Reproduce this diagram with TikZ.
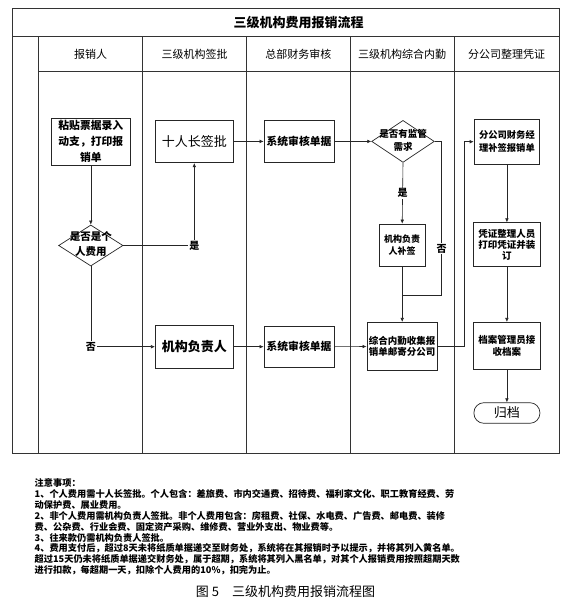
\documentclass[tikz,border=0pt]{standalone}
\usepackage{fontspec}
\setmainfont{Noto Sans CJK SC}
\usetikzlibrary{arrows.meta,shapes.geometric}
\newcommand{\dtxt}[3]{\makebox[0pt]{\smash{\raisebox{-2.5pt}{\fontsize{#1}{#2}\selectfont\bfseries\setlength{\tabcolsep}{0pt}\begin{tabular}{c}#3\end{tabular}}}}}
\begin{document}
\begin{tikzpicture}[x=1pt,y=-1pt,
  frame/.style={line width=0.9pt, draw=black!80},
  box/.style={draw=black!85, line width=0.7pt, inner sep=0pt, align=center},
  dia/.style={diamond, draw=black!85, line width=0.7pt, inner sep=0pt},
  arr/.style={-{Latex[length=4pt,width=3.6pt]}, line width=0.6pt, draw=black!85},
  ln/.style={line width=0.6pt, draw=black!85},
  lbl/.style={fill=white, inner sep=1pt, font=\fontsize{10}{12}\selectfont\bfseries},
  head/.style={inner sep=0pt, font=\fontsize{11}{13}\selectfont},
  note/.style={anchor=base west, inner sep=0pt, font=\fontsize{9.2}{11}\selectfont\bfseries}]
\useasboundingbox (0,0) rectangle (577,611);
\fill[white] (0,0) rectangle (577,611);
% frame
\draw[frame] (12.3,8.3) rectangle (559,453);
\draw[frame] (12.3,36.5) -- (559,36.5);
\draw[frame] (38.3,36.5) -- (38.3,453);
\draw[frame] (38.3,71.5) -- (559,71.5);
\foreach \x in {142.7,246.7,350,454} \draw[frame] (\x,36.5) -- (\x,453);
% title and headers
\node[inner sep=0pt, font=\fontsize{13}{15}\selectfont\bfseries] (tt) at (298.5,22.4) {三级机构费用报销流程};
\node[head] (h1) at (90.5,54) {报销人};
\node[head] (h2) at (194.7,54) {三级机构签批};
\node[head] (h3) at (298.4,54) {总部财务审核};
\node[head] (h4) at (402,54) {三级机构综合内勤};
\node[head] (h5) at (506.5,54) {分公司整理凭证};
% nodes
\node[box, minimum width=78.3pt, minimum height=46.7pt, font=\fontsize{10.8}{16}\selectfont\bfseries] (b1) at (90.8,141.6) {粘贴票据录入\\动支，打印报\\销单};
\node[box, minimum width=78pt, minimum height=42.7pt, font=\fontsize{13}{15}\selectfont] (sg) at (194.3,141.4) {十人长签批};
\node[box, minimum width=70pt, minimum height=42.7pt, font=\fontsize{10.8}{13}\selectfont\bfseries] (s1) at (299,141.4) {系统审核单据};
\node[dia, minimum width=62.6pt, minimum height=42pt] (d2) at (403,141.4) {\dtxt{9.5}{12.7}{是否有监管\\需求}};
\node[box, minimum width=45.7pt, minimum height=42pt, font=\fontsize{9}{12.7}\selectfont\bfseries] (bq) at (402.2,245) {机构负责\\人补签};
\node[box, minimum width=65.7pt, minimum height=45.3pt, font=\fontsize{9.3}{12.7}\selectfont\bfseries] (fc) at (506.9,141.7) {分公司财务经\\理补签报销单};
\node[box, minimum width=66.5pt, minimum height=44pt, font=\fontsize{9.5}{11}\selectfont\bfseries] (pz) at (506.9,244.7) {凭证整理人员\\打印凭证并装\\订};
\node[dia, minimum width=64.4pt, minimum height=41pt] (d1) at (90.8,245.5) {\dtxt{10.5}{15}{是否是个\\人费用}};
\node[box, minimum width=78pt, minimum height=42.6pt, font=\fontsize{13}{15}\selectfont\bfseries] (fz) at (194.3,346.7) {机构负责人};
\node[box, minimum width=70pt, minimum height=41.6pt, font=\fontsize{10.8}{13}\selectfont\bfseries] (s2) at (299,346.7) {系统审核单据};
\node[box, minimum width=70.6pt, minimum height=48.4pt, font=\fontsize{9.5}{11.7}\selectfont\bfseries] (zh) at (402.2,346.5) {综合内勤收集报\\销单邮寄分公司};
\node[box, minimum width=66.5pt, minimum height=47pt, font=\fontsize{9.5}{12}\selectfont\bfseries] (da) at (506.9,345.8) {档案管理员接\\收档案};
\node[box, rounded corners=10pt, minimum width=66pt, minimum height=20.6pt, font=\fontsize{13}{15}\selectfont] (gd) at (506.9,413) {归档};
% connectors
\coordinate (mg) at (402.2,295);
\coordinate (nr) at (441.7,295);
\coordinate (rc) at (464,0);
\draw[arr] (b1.south) -- (d1.north);
\draw[arr] (d1.east) -| node[lbl, pos=0.5] {是} (sg.south);
\draw[arr] (d1.south) |- node[lbl, pos=0.5] {否} (fz.west);
\draw[arr] (sg.east) -- (s1.west);
\draw[arr] (s1.east) -- (d2.west);
\draw[arr] (d2.south) -- node[lbl] {是} (bq.north);
\draw[arr] (fz.east) -- (s2.west);
\draw[arr] (s2.east) -- (zh.west);
\draw[ln] (bq.south) -- (mg);
\draw[ln] (d2.east) -| node[lbl, pos=0.85] {否} (nr) -- (mg);
\draw[arr] (mg) -- (zh.north);
\draw[arr] (zh.east) -- (zh.east -| rc) |- (fc.west);
\draw[arr] (fc.south) -- (pz.north);
\draw[arr] (pz.south) -- (da.north);
\draw[arr] (da.south) -- (gd.north);
% notes
\node[note] (n0) at (34.5,486.8) {注意事项：};
\node[note] (n1) at (34.5,497.6) {1、个人费用需十人长签批。个人包含：差旅费、市内交通费、招待费、福利家文化、职工教育经费、劳};
\node[note] (n2) at (34.5,508.5) {动保护费、展业费用。};
\node[note] (n3) at (34.5,519.3) {2、非个人费用需机构负责人签批。非个人费用包含：房租费、社保、水电费、广告费、邮电费、装修};
\node[note] (n4) at (34.5,530.2) {费、公杂费、行业会费、固定资产采购、维修费、营业外支出、物业费等。};
\node[note] (n5) at (34.5,541.0) {3、往来款仍需机构负责人签批。};
\node[note] (n6) at (34.5,551.8) {4、费用支付后，超过8天未将纸质单据递交至财务处，系统将在其报销时予以提示，并将其列入黄名单。};
\node[note] (n7) at (34.5,562.7) {超过15天仍未将纸质单据递交财务处，属于超期，系统将其列入黑名单，对其个人报销费用按照超期天数};
\node[note] (n8) at (34.5,573.5) {进行扣款，每超期一天，扣除个人费用的10\%，扣完为止。};
\node[inner sep=0pt, font=\fontsize{13}{15}\selectfont] (cap) at (285.5,592) {图 5\hspace{1em}三级机构费用报销流程图};
\end{tikzpicture}
\end{document}
